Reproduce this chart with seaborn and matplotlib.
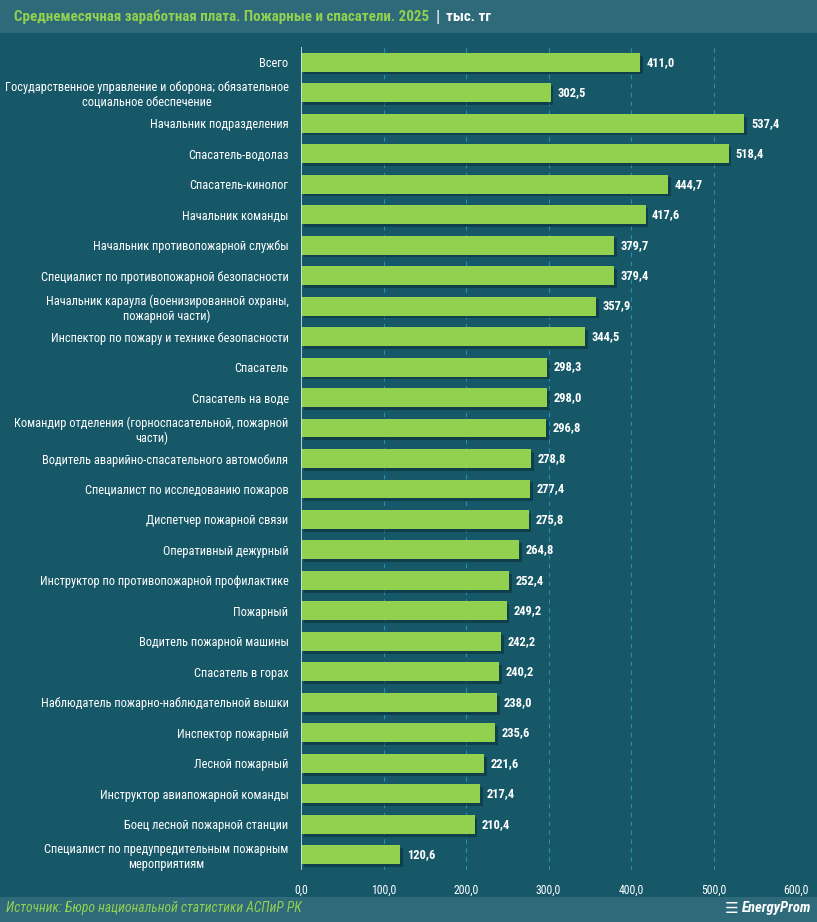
import numpy as np
import pandas as pd
import matplotlib
matplotlib.use("Agg")
import matplotlib.pyplot as plt
import matplotlib.patheffects as pe
import seaborn as sns

# Data (тыс. тг)
categories = [
    "Всего",
    "Государственное управление и оборона; обязательное\nсоциальное обеспечение",
    "Начальник подразделения",
    "Спасатель-водолаз",
    "Спасатель-кинолог",
    "Начальник команды",
    "Начальник противопожарной службы",
    "Специалист по противопожарной безопасности",
    "Начальник караула (военизированной охраны,\nпожарной части)",
    "Инспектор по пожару и технике безопасности",
    "Спасатель",
    "Спасатель на воде",
    "Командир отделения (горноспасательной, пожарной\nчасти)",
    "Водитель аварийно-спасательного автомобиля",
    "Специалист по исследованию пожаров",
    "Диспетчер пожарной связи",
    "Оперативный дежурный",
    "Инструктор по противопожарной профилактике",
    "Пожарный",
    "Водитель пожарной машины",
    "Спасатель в горах",
    "Наблюдатель пожарно-наблюдательной вышки",
    "Инспектор пожарный",
    "Лесной пожарный",
    "Инструктор авиапожарной команды",
    "Боец лесной пожарной станции",
    "Специалист по предупредительным пожарным\nмероприятиям",
]
salary = [411.0, 302.5, 537.4, 518.4, 444.7, 417.6, 379.7, 379.4, 357.9, 344.5,
          298.3, 298.0, 296.8, 278.8, 277.4, 275.8, 264.8, 252.4, 249.2, 242.2,
          240.2, 238.0, 235.6, 221.6, 217.4, 210.4, 120.6]
x_ticks = [0, 100, 200, 300, 400, 500, 600]

title = "Среднемесячная заработная плата. Пожарные и спасатели. 2025"
unit = "тыс. тг"
source = "Источник: Бюро национальной статистики АСПиР РК"

df = pd.DataFrame({"category": categories, "salary": salary})

bg = "#165868"
band = "#2e6a7a"
green = "#92d050"
fonts = ["Liberation Sans Narrow", "Roboto Condensed", "DejaVu Sans"]

sns.set_style("dark")
plt.rcParams["font.family"] = fonts

fig = plt.figure(figsize=(8.17, 9.22), dpi=100, facecolor=bg)
ax = fig.add_axes([301 / 817, 1 - 870 / 922, 495 / 817, (870 - 47) / 922])
ax.set_facecolor(bg)

sns.barplot(data=df, x="salary", y="category", orient="h", color=green,
            width=0.62, saturation=1, linewidth=0, ax=ax, zorder=3)
for p in ax.patches:
    p.set_path_effects([pe.SimplePatchShadow(offset=(2, -2), shadow_rgbFace="#0a2f38", alpha=0.6),
                        pe.Normal()])

for i, v in enumerate(salary):
    ax.text(v + 8, i, f"{v:.1f}".replace(".", ","), va="center", ha="left",
            color="white", fontsize=9, fontweight="bold", zorder=4)

ax.set_xlim(0, 600)
ax.set_ylim(len(categories) - 0.5, -0.5)
ax.set_xticks(x_ticks)
ax.set_xticklabels([f"{t:.1f}".replace(".", ",") for t in x_ticks], color="white", fontsize=8.5)
ax.tick_params(axis="x", length=0, pad=10)
ax.tick_params(axis="y", length=0, pad=9, colors="white", labelsize=8.9)
for lab in ax.get_yticklabels():
    lab.set_multialignment("center")
ax.set_xlabel("")
ax.set_ylabel("")
ax.grid(False)
for t in x_ticks[1:]:
    ax.axvline(t, color="#2490b8", lw=0.8, ls=(0, (4, 4)), zorder=1)
ax.axvline(0, color="#d8e4e8", lw=1.2, zorder=5)
for s in ax.spines.values():
    s.set_visible(False)

# title band and footer band
fig.patches.append(plt.Rectangle((0, 1 - 33 / 922), 1, 33 / 922, transform=fig.transFigure,
                                 facecolor=band, linewidth=0, zorder=0))
fig.patches.append(plt.Rectangle((0, 0), 1, 25 / 922, transform=fig.transFigure,
                                 facecolor=band, linewidth=0, zorder=0))

t1 = fig.text(14 / 817, 1 - 17 / 922, title, color=green, fontsize=10.8, fontweight="bold",
              va="center", ha="left")
fig.canvas.draw()
bb = t1.get_window_extent()
fig.text((bb.x1 + 6) / 817, 1 - 17 / 922, "|", color="white", fontsize=12.5, va="center", ha="left")
fig.text((bb.x1 + 17) / 817, 1 - 17 / 922, unit, color="white", fontsize=10.8, fontweight="bold",
         va="center", ha="left")

fig.text(6 / 817, 1 - 908 / 922, source, color=green, fontsize=9.8, style="italic",
         va="center", ha="left")
fig.text(811 / 817, 1 - 908 / 922, "EnergyProm", color="white", fontsize=10.5, style="italic",
         fontweight="bold", va="center", ha="right")
fig.text(732 / 817, 1 - 908 / 922, "☰", color="white", fontsize=11, va="center", ha="center",
         family=["DejaVu Sans"])

fig.savefig("out.png", dpi=100, facecolor=bg)
